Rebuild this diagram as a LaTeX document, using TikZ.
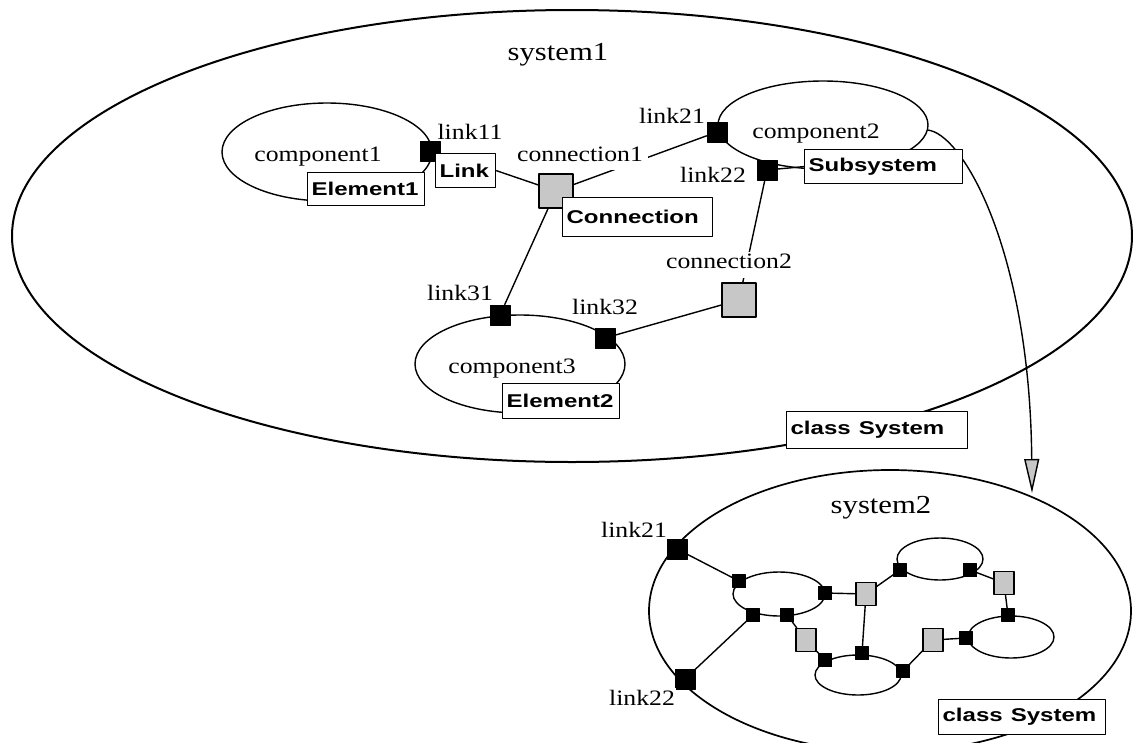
\documentclass[tikz,border=0pt]{standalone}
\usepackage{fontspec}
\usepackage{graphicx}
\setmainfont{Liberation Serif}
\setsansfont{Liberation Sans}
\usetikzlibrary{arrows.meta,backgrounds}
\newcommand\sxl[1]{\scalebox{1.17}[1]{#1}}
\newcommand\sxs[1]{\scalebox{1.18}[1]{#1}}
\newcommand\sxb[1]{\scalebox{1.3}[1]{#1}}
\tikzset{
  ln/.style={line width=1.4pt, draw=black},
  sysln/.style={line width=2pt, draw=black},
  lab/.style={font=\fontsize{22}{26}\selectfont, inner sep=1.5pt, fill=white, anchor=base},
  syslab/.style={font=\fontsize{26}{30}\selectfont, inner sep=1pt, anchor=base},
  bx/.style={draw=black, fill=white, line width=1.2pt, anchor=north west, inner xsep=4pt, inner ysep=0pt,
             font=\sffamily\bfseries\fontsize{18.5}{21}\selectfont, align=left},
  bsq/.style={fill=black, draw=black, minimum size=20pt, inner sep=0pt},
  gsq/.style={fill=black!22, draw=black, line width=1.2pt, minimum size=34pt, inner sep=0pt},
  sbsq/.style={fill=black, draw=black, minimum size=13pt, inner sep=0pt},
  sgsq/.style={fill=black!22, draw=black, line width=1.1pt, minimum width=20pt, minimum height=23pt, inner sep=0pt},
}
\begin{document}
\begin{tikzpicture}[x=1pt,y=-1pt, line join=round]
\useasboundingbox (0,0) rectangle (1133,742);

% ---------- system1 ----------
\node[syslab] (s1t) at (558,60) {\sxs{system1}};

\node[bsq] (l11) at (430,151) {};
\node[bsq] (l21) at (717,132) {};
\node[bsq] (l22) at (767,170) {};
\node[bsq] (l31) at (500,315) {};
\node[bsq] (l32) at (605,338) {};
\node[gsq] (cn1) at (556,191) {};
\node[gsq] (cn2) at (739,300) {};

\node[bx, minimum width=117pt, minimum height=33pt, text width=109pt] (el1) at (307,172) {\sxb{Element1}};
\node[bx, minimum width=60pt, minimum height=34pt, text width=52pt] (lnk) at (435,153) {\sxb{Link}};
\node[bx, minimum width=150pt, minimum height=39pt, text width=142pt] (cnb) at (562,197) {\sxb{Connection}};
\node[bx, minimum width=158pt, minimum height=34pt, text width=150pt] (sub) at (804,149) {\sxb{Subsystem}};
\node[bx, minimum width=117pt, minimum height=35pt, text width=109pt] (el2) at (502,383) {\sxb{Element2}};
\node[bx, minimum width=181pt, minimum height=37pt, text width=173pt] (cs1) at (786,411) {\sxb{class System}};

\node[lab] (tc1) at (318,161) {\sxl{component1}};
\node[lab] (tl11) at (470,139) {\sxl{link11}};
\node[lab, text depth=7pt, inner xsep=5pt] (tcn1) at (580,161) {\sxl{connection1}};
\node[lab] (tl21) at (672,123) {\sxl{link21}};
\node[lab] (tc2) at (816,138) {\sxl{component2}};
\node[lab] (tl22) at (713,182) {\sxl{link22}};
\node[lab, text depth=8pt] (tcn2) at (729,268) {\sxl{connection2}};
\node[lab] (tl31) at (460,300) {\sxl{link31}};
\node[lab, text depth=0pt] (tl32) at (605,314) {\sxl{link32}};
\node[lab] (tc3) at (512,373) {\sxl{component3}};

% ---------- system2 ----------
\node[syslab] (s2t) at (881,513) {\sxs{system2}};
\node[bsq] (m21) at (677,549) {};
\node[bsq] (m22) at (685,679) {};
\node[lab] (tm21) at (634,537) {\sxl{link21}};
\node[lab] (tm22) at (642,705) {\sxl{link22}};

\node[sbsq] (a1) at (739,581) {};
\node[sbsq] (a2) at (825,593) {};
\node[sbsq] (a3) at (753,615) {};
\node[sbsq] (a4) at (787,615) {};
\node[sbsq] (b1) at (900,570) {};
\node[sbsq] (b2) at (970,570) {};
\node[sbsq] (c1) at (1008,615) {};
\node[sbsq] (c2) at (966,638) {};
\node[sbsq] (d1) at (825,660) {};
\node[sbsq] (d2) at (862,653) {};
\node[sbsq] (d3) at (903,671) {};
\node[sgsq] (g1) at (866,594) {};
\node[sgsq] (g2) at (806,640) {};
\node[sgsq] (g3) at (1004,583) {};
\node[sgsq] (g4) at (933,640) {};

\node[bx, minimum width=167pt, minimum height=35pt, text width=159pt] (cs2) at (938,699) {\sxb{class System}};

\coordinate (c2e) at (927,130);
\coordinate (s2top) at (1032,493);

\begin{scope}[on background layer]
  \draw[sysln] (572,236) ellipse [x radius=560, y radius=226];
  \draw[ln] (327,152) ellipse [x radius=105, y radius=49];
  \draw[ln] (823,125) ellipse [x radius=105, y radius=44];
  \draw[ln] (520,364) ellipse [x radius=105, y radius=49];
  \draw[ln] (lnk.east) -- (cn1);
  \draw[ln] (cn1) -- (l21);
  \draw[ln] (cn1) -- (l31);
  \draw[ln] (l22) -- (cn2);
  \draw[ln] (l22) -- (sub.west);
  \draw[ln] (cn2) -- (l32);
  \draw[ln, -{Triangle[width=15pt,length=34pt,fill=black!22]}] (c2e) .. controls (962,132) and (1030,250) .. (s2top);

  \draw[sysln, line width=1.7pt] (890,611) ellipse [x radius=241, y radius=141];
  \draw[ln] (779,594) ellipse [x radius=46, y radius=22];
  \draw[ln] (940,559) ellipse [x radius=43, y radius=21];
  \draw[ln] (1011,637) ellipse [x radius=43, y radius=21];
  \draw[ln] (858,675) ellipse [x radius=43, y radius=20];
  \draw[ln] (m21) -- (a1);
  \draw[ln] (m22) -- (a3);
  \draw[ln] (a2) -- (g1);
  \draw[ln] (g1) -- (b1);
  \draw[ln] (g1) -- (d2);
  \draw[ln] (b2) -- (g3);
  \draw[ln] (g3) -- (c1);
  \draw[ln] (c2) -- (g4);
  \draw[ln] (g4) -- (d3);
  \draw[ln] (a4) -- (g2);
  \draw[ln] (g2) -- (d1);
\end{scope}
\end{tikzpicture}
\end{document}
